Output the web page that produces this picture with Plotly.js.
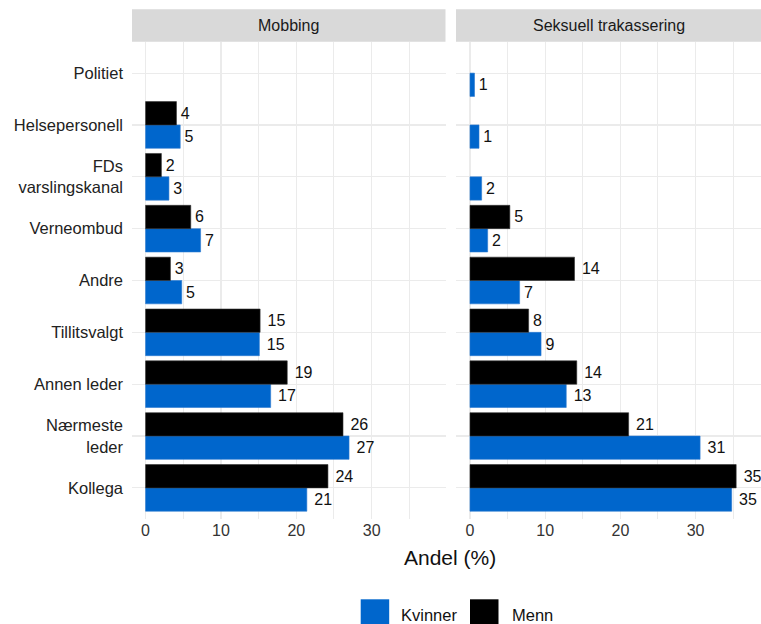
<!DOCTYPE html>
<html>
<head>
<meta charset="utf-8">
<script src="https://cdn.plot.ly/plotly-3.0.1.min.js"></script>
<style>html,body{margin:0;padding:0;background:#fff;}#chart{width:761px;height:624px;}</style>
</head>
<body>
<div id="chart"></div>
<script>
// ---- data ----
const categories = ["Politiet", "Helsepersonell", "FDs<br>varslingskanal", "Verneombud", "Andre",
  "Tillitsvalgt", "Annen leder", "Nærmeste<br>leder", "Kollega"];
const panels = ["Mobbing", "Seksuell trakassering"];
const seriesNames = ["Kvinner", "Menn"];
const mobbingKvinner = [null, 4.6, 3.1, 7.3, 4.8, 15.1, 16.6, 27.0, 21.4];
const mobbingMenn    = [null, 4.1, 2.1, 6.0, 3.3, 15.2, 18.8, 26.2, 24.2];
const seksKvinner    = [0.6, 1.2, 1.55, 2.35, 6.6, 9.45, 12.8, 30.6, 34.8];
const seksMenn       = [null, null, null, 5.3, 13.9, 7.8, 14.2, 21.1, 35.4];
const xTicks = [0, 10, 20, 30];
const axisTitle = "Andel (%)";

// ---- styles ----
const W = 761, H = 624;
const seriesColors = ["#0066CC", "#000000"];
const seriesLines = ["#2a78d0", "#333333"];
const gridColor = "#EBEBEB";
const px = v => v / W;
const py = v => (H - v) / H;

// label text = rounded value; a non-breaking pad mimics the width-proportional offset (hjust) of the original
function lbl(arr) {
  return arr.map(v => {
    if (v == null) return "";
    const s = String(Math.round(v));
    return (s.length > 1 ? "\u00A0" : "\u200A") + s;
  });
}

function mk(vals, si, xa, ya) {
  return {
    type: "bar", orientation: "h",
    x: vals, y: categories,
    xaxis: xa, yaxis: ya,
    name: seriesNames[si],
    marker: { color: seriesColors[si], line: { color: seriesLines[si], width: 0.6 } },
    text: lbl(vals), textposition: "outside",
    textfont: { size: 16, color: "#111" },
    outsidetextfont: { size: 16, color: "#111" },
    constraintext: "none", cliponaxis: false,
    hoverinfo: "none", showlegend: false
  };
}

const data = [
  mk(mobbingKvinner, 0, "x", "y"),
  mk(mobbingMenn, 1, "x", "y"),
  mk(seksKvinner, 0, "x2", "y2"),
  mk(seksMenn, 1, "x2", "y2")
];

const xBase = {
  tickmode: "array", tickvals: xTicks,
  showgrid: true, gridcolor: gridColor, gridwidth: 1.2,
  minor: { tick0: 5, dtick: 10, showgrid: true, gridcolor: gridColor, gridwidth: 1 },
  zeroline: false, showline: false, ticks: "",
  tickfont: { size: 16, color: "#333" }, fixedrange: true
};
const yBase = {
  type: "category", categoryorder: "array", categoryarray: categories.slice().reverse(),
  range: [-0.6, 8.6],
  domain: [(H - 519) / H, (H - 42) / H],
  showgrid: true, gridcolor: gridColor, gridwidth: 1.2,
  zeroline: false, showline: false, ticks: "",
  tickfont: { size: 16.5, color: "#222" }, fixedrange: true
};

const strips = [[132, 445.5], [456, 761]];
const shapes = strips.map(s => ({
  type: "rect", xref: "paper", yref: "paper",
  x0: px(s[0]), x1: px(s[1]), y0: py(41.7), y1: py(9.3),
  fillcolor: "#D9D9D9", line: { width: 0 }, layer: "below"
}));
const annotations = strips.map((s, i) => ({
  xref: "paper", yref: "paper", x: px((s[0] + s[1]) / 2), y: py(25.5),
  xanchor: "center", yanchor: "middle", showarrow: false,
  text: panels[i], font: { size: 16, color: "#1A1A1A" }
}));
annotations.push({
  xref: "paper", yref: "paper", x: px(450), y: py(557),
  xanchor: "center", yanchor: "middle", showarrow: false,
  text: axisTitle, font: { size: 21, color: "#111" }
});
// legend built from series names / colours
const legendKeys = [[360.7, 401], [470, 511.5]];
legendKeys.forEach((k, i) => {
  shapes.push({
    type: "rect", xref: "paper", yref: "paper",
    x0: px(k[0]), x1: px(k[0] + 28.5), y0: py(628), y1: py(599.3),
    fillcolor: seriesColors[i], line: { width: 0 }
  });
  annotations.push({
    xref: "paper", yref: "paper", x: px(k[1] - 2), y: py(615),
    xanchor: "left", yanchor: "middle", showarrow: false,
    text: seriesNames[i], font: { size: 16.5, color: "#111" }
  });
});

const layout = {
  width: W, height: H,
  margin: { l: 0, r: 0, t: 0, b: 0 },
  paper_bgcolor: "#fff", plot_bgcolor: "#fff",
  font: { family: "Liberation Sans, Arial, sans-serif", color: "#222" },
  barmode: "group", bargap: 0.1, bargroupgap: 0,
  xaxis: Object.assign({}, xBase, { domain: [px(132), px(445.5)], range: [-1.8, 39.8], anchor: "y" }),
  xaxis2: Object.assign({}, xBase, { domain: [px(456), px(761)], range: [-1.86, 38.7], anchor: "y2" }),
  yaxis: Object.assign({}, yBase, { anchor: "x", ticklabelstandoff: 8 }),
  yaxis2: Object.assign({}, yBase, { anchor: "x2", showticklabels: false }),
  shapes: shapes,
  annotations: annotations,
  showlegend: false
};

Plotly.newPlot("chart", data, layout, { staticPlot: true, displayModeBar: false });
</script>
</body>
</html>
